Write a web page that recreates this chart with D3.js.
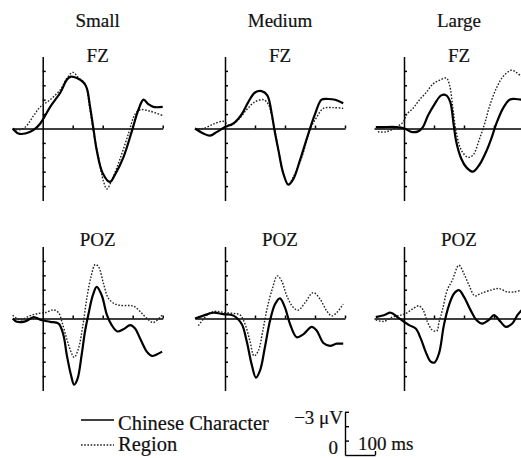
<!DOCTYPE html>
<html>
<head>
<meta charset="utf-8">
<script src="https://cdn.jsdelivr.net/npm/d3@7"></script>
<style>
  html, body { margin: 0; padding: 0; background: #fff; }
  svg text { font-family: "Liberation Serif", "Times New Roman", serif; fill: #111; stroke: #111; stroke-width: 0.2px; }
</style>
</head>
<body>
<svg id="chart" width="521" height="458"></svg>
<script>
// ----- data (ms, µV) ; negative is drawn up -----
const sizes = ['Small', 'Medium', 'Large'];
const sites = ['FZ', 'POZ'];
const seriesNames = ['Chinese Character', 'Region'];
const xTicks = [100, 200, 300, 400];
const yTicks = [-4, -3, -2, -1, 1, 2, 3, 4];

// FZ
const smallFzChar = [[-100,0],[-81,0.35],[-58,0.35],[-30,0.1],[-8,-0.35],[25,-1.5],[59,-2.5],[81,-3.4],[94,-3.6],[114,-3.5],[136,-3.2],[147,-2.8],[158,-1.5],[169,0],[180,1.5],[200,3.1],[224,3.7],[241,3.2],[269,2.0],[297,0.2],[319,-1.3],[336,-2.0],[352,-1.7],[369,-1.5],[400,-1.5]];
const smallFzRegion = [[-100,0],[-81,0.1],[-58,-0.1],[-30,-0.9],[-8,-1.5],[25,-2.0],[59,-2.7],[81,-3.5],[101,-3.9],[120,-3.5],[142,-3.1],[156,-1.5],[169,0.2],[186,2.0],[203,3.7],[214,4.2],[230,3.6],[258,2.1],[286,0.35],[308,-1.0],[325,-1.3],[358,-1.2],[400,-0.9]];
const mediumFzChar = [[-100,0],[-72,0.35],[-50,0.5],[-28,0.25],[0,-0.1],[28,-0.35],[56,-1.0],[78,-1.85],[100,-2.5],[122,-2.6],[141,-2.3],[156,-1.0],[164,0],[178,1.5],[194,3.1],[211,3.9],[228,3.5],[250,2.2],[278,0.35],[300,-1.0],[322,-2.0],[344,-2.05],[367,-2.0],[394,-1.75]];
const mediumFzRegion = [[-100,0],[-72,0],[-39,-0.3],[-6,-0.5],[17,-0.2],[44,-0.6],[72,-1.3],[100,-1.85],[128,-2.0],[144,-1.7],[161,-0.35],[178,1.5],[194,3.1],[211,3.9],[228,3.35],[256,2.0],[283,0.1],[306,-0.8],[328,-1.4],[361,-1.45],[394,-1.4]];
const largeFzChar = [[-94,-0.1],[-70,-0.1],[-26,-0.1],[2,0],[24,0.23],[47,0.2],[63,-0.1],[80,-0.9],[102,-1.7],[124,-2.3],[141,-2.3],[154,-1.85],[166,-0.2],[174,0.9],[191,2.1],[208,2.7],[230,3.0],[252,2.5],[274,1.6],[291,0.7],[308,-0.35],[330,-1.4],[352,-2.0],[372,-2.05],[392,-2.0]];
const largeFzRegion = [[-87,0.23],[-59,0.23],[-26,-0.1],[-3,-0.45],[10,-1.0],[30,-1.4],[52,-2.0],[74,-2.5],[97,-3.1],[119,-3.35],[141,-3.5],[152,-3.0],[163,-1.4],[174,0.23],[191,1.5],[213,2.0],[230,1.85],[252,0.7],[269,-0.35],[286,-1.6],[308,-2.8],[330,-3.6],[358,-4.05],[374,-3.9],[392,-3.6]];

// POZ
const smallPozChar = [[-100,0],[-86,0.23],[-58,0.2],[-30,-0.1],[-6,0.1],[25,0.23],[53,0.35],[69,1.15],[80,2.5],[94,3.9],[105,4.6],[116,4.2],[130,2.5],[141,0.9],[153,-0.35],[167,-1.6],[180,-2.2],[197,-1.6],[214,-0.25],[230,0.46],[249,0.9],[269,0.75],[292,0.46],[308,0.7],[325,1.4],[347,2.3],[364,2.6],[380,2.5],[398,2.3]];
const smallPozRegion = [[-100,-0.23],[-75,0.1],[-42,-0.2],[-14,-0.35],[8,-0.4],[36,-0.6],[53,-0.4],[64,0.23],[80,1.4],[94,2.3],[105,2.7],[119,2.1],[134,0.46],[147,-1.4],[161,-2.9],[175,-3.75],[186,-3.6],[203,-2.4],[219,-1.4],[242,-1.0],[264,-0.9],[292,-0.9],[308,-0.8],[331,-0.35],[353,0.1],[369,0.28],[398,-0.23]];
const mediumPozChar = [[-100,0],[-72,-0.2],[-39,-0.4],[-6,-0.3],[28,-0.2],[56,0.4],[72,1.55],[89,3.2],[103,4.1],[117,3.6],[133,2.0],[150,0.16],[167,-1.0],[183,-1.4],[200,-0.76],[217,0.4],[239,1.3],[261,1.1],[289,0.58],[306,0.85],[328,1.7],[350,1.9],[372,1.75],[394,1.75]];
const mediumPozRegion = [[-89,0.5],[-72,0.05],[-50,-0.4],[-28,-0.5],[0,-0.4],[28,-0.35],[50,-0.25],[67,0.4],[83,1.55],[97,2.6],[111,2.25],[126,0.85],[141,-0.76],[159,-2.15],[174,-2.96],[189,-2.6],[206,-1.57],[228,-0.76],[244,-0.58],[267,-1.1],[294,-1.8],[317,-1.34],[339,-0.53],[356,-0.18],[372,-0.4],[394,-1.0]];
const largePozChar = [[-94,-0.1],[-67,-0.23],[-44,-0.4],[-22,-0.1],[0,0.23],[17,0.46],[39,0.7],[56,1.4],[72,2.3],[89,3.0],[102,3.05],[117,2.4],[133,0.46],[150,-0.93],[167,-1.74],[183,-1.97],[200,-1.5],[222,-0.58],[242,0.12],[261,0.35],[283,0.1],[300,-0.23],[322,0.23],[339,0.58],[361,0.35],[378,-0.23],[392,-0.58]];
const largePozRegion = [[-94,0.1],[-67,0.2],[-39,-0.1],[-11,-0.23],[6,-0.35],[28,-0.65],[50,-0.88],[64,-0.58],[78,0.23],[94,0.8],[109,0.88],[117,0.23],[128,-0.58],[144,-1.97],[161,-2.66],[183,-3.7],[200,-3.1],[217,-2.3],[236,-1.57],[256,-1.74],[289,-1.97],[317,-2.08],[344,-1.85],[367,-1.85],[392,-1.97]];

const panelData = [
  [[smallFzChar, smallFzRegion], [mediumFzChar, mediumFzRegion], [largeFzChar, largeFzRegion]],
  [[smallPozChar, smallPozRegion], [mediumPozChar, mediumPozRegion], [largePozChar, largePozRegion]]
];

// ----- layout -----
const svg = d3.select('#chart');
const colZero = [42.7, 225, 404];   // px of 0 ms in each column
const rowZero = [128.5, 318.5];     // px of 0 µV in each row
const pxPerMs = 0.3;
const pxPerUv = 14.4;

const lineStyles = [
  { stroke: '#000', width: 2.2, dash: null },
  { stroke: '#222', width: 1.4, dash: '1.6,1.6' }
];

function drawPanel(r, c) {
  const x = d3.scaleLinear().domain([-100, 400])
    .range([colZero[c] - 100 * pxPerMs, colZero[c] + 400 * pxPerMs]);
  const y = d3.scaleLinear().domain([-5, 5])
    .range([rowZero[r] - 5 * pxPerUv, rowZero[r] + 5 * pxPerUv]);

  const g = svg.append('g');

  // x axis along zero line, ticks pointing up
  g.append('g')
    .attr('transform', `translate(0,${y(0)})`)
    .call(d3.axisTop(x).tickValues(xTicks).tickSize(3).tickSizeOuter(0).tickFormat(''))
    .call(a => a.selectAll('path,line').attr('stroke', '#000').attr('stroke-width', 1.5));

  // y axis at 0 ms, ticks pointing right
  g.append('g')
    .attr('transform', `translate(${x(0)},0)`)
    .call(d3.axisRight(y).tickValues(yTicks).tickSize(3).tickSizeOuter(0).tickFormat(''))
    .call(a => a.selectAll('path,line').attr('stroke', '#000').attr('stroke-width', 1.5));

  const line = d3.line()
    .x(d => x(d[0]))
    .y(d => y(d[1]))
    .curve(d3.curveCatmullRom.alpha(0.5));

  // dotted first, solid on top
  [1, 0].forEach(i => {
    g.append('path')
      .datum(panelData[r][c][i])
      .attr('d', line)
      .attr('fill', 'none')
      .attr('stroke', lineStyles[i].stroke)
      .attr('stroke-width', lineStyles[i].width)
      .attr('stroke-dasharray', lineStyles[i].dash)
      .attr('stroke-linejoin', 'round');
  });

  // site label
  g.append('text')
    .attr('x', colZero[c] + 55)
    .attr('y', r === 0 ? 62 : 246)
    .attr('text-anchor', 'middle')
    .attr('font-size', 19)
    .text(sites[r]);
}

for (let r = 0; r < 2; r++) for (let c = 0; c < 3; c++) drawPanel(r, c);

// column headings
sizes.forEach((s, c) => {
  svg.append('text')
    .attr('x', colZero[c] + 55)
    .attr('y', 27)
    .attr('text-anchor', 'middle')
    .attr('font-size', 19)
    .text(s);
});

// legend
const legend = svg.append('g');
[[420, 430], [445, 451]].forEach(([ly, ty], i) => {
  legend.append('line')
    .attr('x1', 81).attr('x2', 114).attr('y1', ly).attr('y2', ly)
    .attr('stroke', lineStyles[i].stroke)
    .attr('stroke-width', i === 0 ? 1.6 : 1.4)
    .attr('stroke-dasharray', lineStyles[i].dash);
  legend.append('text')
    .attr('x', 118).attr('y', ty)
    .attr('font-size', 20.5)
    .text(seriesNames[i]);
});

// scale bar: 3 µV by 100 ms
const sbX = 345, sbY = 455;
const sbV = d3.scaleLinear().domain([0, -3]).range([sbY, sbY - 3 * pxPerUv]);
const sbT = d3.scaleLinear().domain([0, 100]).range([sbX, sbX + 100 * pxPerMs]);
const sb = svg.append('g');
sb.append('g')
  .attr('transform', `translate(${sbX},0)`)
  .call(d3.axisRight(sbV).tickValues([-3, -2, -1]).tickSize(4).tickSizeOuter(0).tickFormat(''))
  .call(a => a.selectAll('path,line').attr('stroke', '#000').attr('stroke-width', 1.4));
sb.append('g')
  .attr('transform', `translate(0,${sbY})`)
  .call(d3.axisTop(sbT).tickValues([100]).tickSize(4).tickSizeOuter(0).tickFormat(''))
  .call(a => a.selectAll('path,line').attr('stroke', '#000').attr('stroke-width', 1.4));
sb.append('text').attr('x', sbX - 2).attr('y', 424).attr('text-anchor', 'end').attr('font-size', 19).text('\u22123 \u03bcV');
sb.append('text').attr('x', sbX - 7).attr('y', 454).attr('text-anchor', 'end').attr('font-size', 19).text('0');
sb.append('text').attr('x', sbX + 13).attr('y', 450).attr('font-size', 19).text('100 ms');
</script>
</body>
</html>
